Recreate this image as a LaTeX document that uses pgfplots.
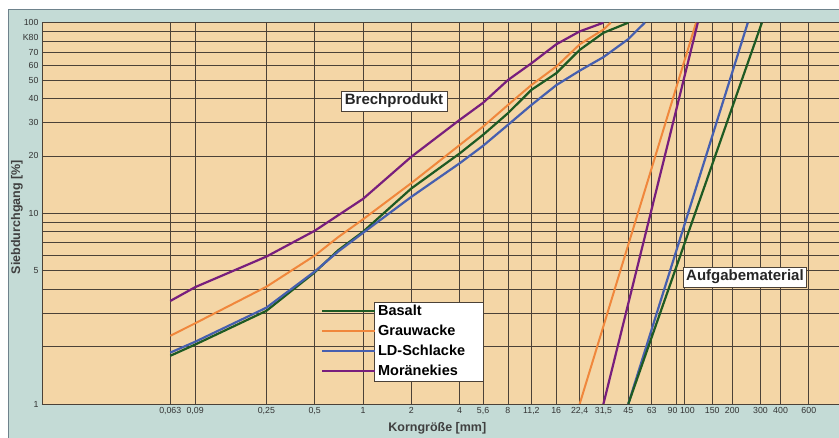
\documentclass[border=0pt]{standalone}
\usepackage{pgfplots}
\pgfplotsset{compat=1.18}
\usepackage{fontspec}
\setmainfont{Liberation Sans}

\definecolor{basalt}{RGB}{30,90,35}
\definecolor{grauwacke}{RGB}{240,135,60}
\definecolor{schlacke}{RGB}{70,95,175}
\definecolor{moraene}{RGB}{120,30,125}
\definecolor{papier}{RGB}{244,214,166}
\definecolor{rahmen}{RGB}{196,219,214}
\definecolor{rahmenlinie}{RGB}{110,130,140}
\definecolor{gitter}{RGB}{75,65,55}

\begin{document}
\begin{tikzpicture}[x=1pt,y=1pt]
\useasboundingbox (-42,-34) rectangle (797,404);
\fill[white] (-42,-34) rectangle (797,404);
\filldraw[fill=rahmen, draw=rahmenlinie, line width=0.8pt] (-34,-40) rectangle (805,394.5);
\begin{axis}[
    scale only axis,
    width=797pt, height=381.3pt,
    xmode=log, ymode=log,
    xmin=0.01, xmax=925, ymin=1, ymax=100,
    axis background/.style={fill=papier},
    axis lines*=left,
    axis line style={gitter, line width=0.9pt},
    major tick length=0pt,
    grid=major,
    major grid style={gitter, line width=0.8pt},
    xtick={0.063,0.09,0.25,0.5,1,2,4,5.6,8,11.2,16,22.4,31.5,45,63,90,100,150,200,300,400,600},
    xticklabels={{0,063},{0,09},{0,25},{0,5},1,2,4,{5,6},8,{11,2},16,{22,4},{31,5},45,63,{90\kern8pt},{\kern7pt100},150,200,300,400,600},
    ytick={1,2,3,4,5,6,7,8,9,10,20,30,40,50,60,70,80,90,100},
    yticklabels={1,,,,5,,,,,10,20,30,40,50,60,70,,,100},
    extra y ticks={84},
    extra y tick labels={K80},
    extra y tick style={grid=none},
    tick label style={font=\fontsize{8.8}{10}\selectfont, text=black!80},
    xlabel={Korngröße [mm]},
    ylabel={Siebdurchgang [\%]},
    xlabel style={at={(axis description cs:0.496,-0.063)}, anchor=center,
        font=\fontsize{12.5}{13}\selectfont\bfseries, text=black!75},
    ylabel style={at={(axis description cs:-0.0314,0.49)}, anchor=center,
        font=\fontsize{12.5}{13}\selectfont\bfseries, text=black!75},
    legend style={at={(rel axis cs:0.3497,0.266)}, anchor=north west,
        draw=none, fill=none, inner sep=0pt,
        font=\fontsize{14.5}{14.5}\selectfont\bfseries, row sep=4.2pt},
    legend cell align=left,
    legend image code/.code={\draw[#1] (0pt,0pt) -- (46pt,0pt); \path (0pt,0pt) -- (53pt,0pt);},
]

% Brechprodukt
\addplot[basalt, line width=2.2pt] coordinates {
    (0.063,1.79) (0.09,2.05) (0.25,3.08) (0.5,4.9) (0.7,6.4) (1,8.0)
    (2,13.5) (4,20.6) (5.6,25.8) (8,33.5) (11.2,44.4) (16,54.3)
    (22.4,72) (31.5,88.5) (45,100)
};
\addplot[grauwacke, line width=2pt] coordinates {
    (0.063,2.28) (0.09,2.65) (0.25,4.12) (0.5,6.0) (0.7,7.5) (1,9.3)
    (2,14.4) (4,22.8) (5.6,28.5) (8,37) (11.2,47.1) (16,58.8)
    (22.4,77) (31.5,92) (35,100)
};
\addplot[schlacke, line width=2.2pt] coordinates {
    (0.063,1.86) (0.09,2.12) (0.25,3.2) (0.5,4.95) (0.7,6.3) (1,7.9)
    (2,12.2) (4,18.3) (5.6,22.6) (8,29.1) (11.2,37) (16,47)
    (22.4,56) (31.5,66) (45,82) (57,100)
};
\addplot[moraene, line width=2.2pt] coordinates {
    (0.063,3.47) (0.09,4.1) (0.25,5.93) (0.5,8.1) (1,11.9)
    (2,19.8) (4,30.9) (5.6,38) (8,50) (11.2,61.2) (16,77)
    (22.4,90) (31.5,100)
};
\legend{Basalt, Grauwacke, LD-Schlacke, Moränekies}

% Aufgabematerial
\addplot[grauwacke, line width=2pt, forget plot] coordinates {(22.4,1) (119,100)};
\addplot[moraene, line width=2.2pt, forget plot] coordinates {(31.5,1) (122,100)};
\addplot[schlacke, line width=2.2pt, forget plot] coordinates {(45,1) (250,100)};
\addplot[basalt, line width=2.2pt, forget plot] coordinates {(45,1) (306,100)};

\draw[fill=white, draw=gitter, line width=0.6pt]
    (rel axis cs:0.4166,0.0585) rectangle (rel axis cs:0.5537,0.2657);
\node[draw=gitter, fill=white, line width=0.6pt, inner xsep=4pt, inner ysep=3pt,
      font=\fontsize{15}{15}\selectfont\bfseries, text=black!85]
    at (rel axis cs:0.4417,0.7946) {Brechprodukt};
\node[draw=gitter, fill=white, line width=0.6pt, inner xsep=3pt, inner ysep=3pt,
      font=\fontsize{15}{15}\selectfont\bfseries, text=black!85]
    at (rel axis cs:0.882,0.333) {Aufgabematerial};
\end{axis}
\end{tikzpicture}
\end{document}
